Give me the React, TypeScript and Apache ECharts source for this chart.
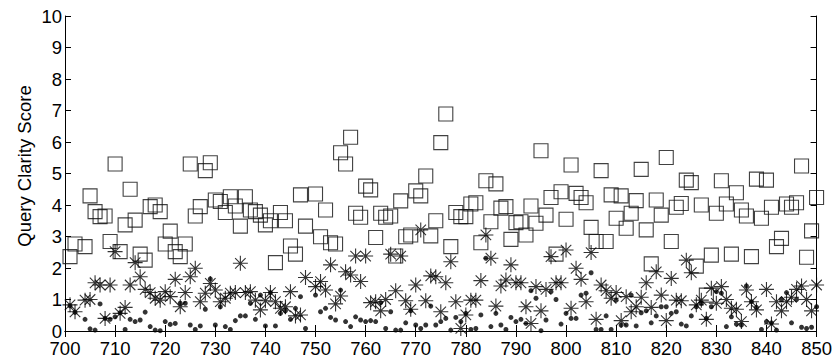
import React, { useEffect, useRef } from "react";
import * as echarts from "echarts";

const xMin = 700;
const xMax = 850;
const yMin = 0;
const yMax = 10;
const yTitle = "Query Clarity Score";

// Square markers [x, score]
const squares: [number, number][] = [
  [701, 2.36], [702, 2.76], [704, 2.68], [705, 4.29], [706, 3.79], [707, 3.63], [708, 3.65], [709, 2.84], [710, 5.3],
  [711, 2.52], [712, 3.37], [713, 4.5], [714, 3.52], [715, 2.44], [716, 2.25], [717, 3.95], [718, 4.0], [719, 3.79],
  [720, 2.76], [721, 3.17], [722, 2.52], [723, 2.36], [724, 2.76], [725, 5.3], [726, 3.65], [727, 3.95], [728, 5.09],
  [729, 5.34], [730, 4.16], [731, 4.11], [732, 3.76], [733, 4.26], [734, 3.97], [735, 3.33], [736, 4.26], [737, 3.84],
  [738, 3.79], [739, 3.68], [740, 3.37], [741, 3.5], [742, 2.17], [743, 3.76], [744, 3.5], [745, 2.7], [746, 2.44],
  [747, 4.32], [748, 3.33], [750, 4.35], [751, 2.99], [752, 3.84], [753, 2.8], [754, 2.76], [755, 5.66], [756, 5.3],
  [757, 6.15], [758, 3.74], [759, 3.61], [760, 4.6], [761, 4.48], [762, 2.97], [763, 3.74], [764, 3.61], [765, 3.65],
  [766, 2.38], [767, 4.13], [768, 2.99], [769, 3.05], [770, 4.45], [771, 4.29], [772, 4.92], [773, 3.02], [774, 3.5],
  [775, 5.98], [776, 6.89], [777, 2.68], [778, 3.76], [779, 3.63], [780, 3.63], [781, 4.03], [782, 4.07], [783, 2.8],
  [784, 4.77], [785, 3.47], [786, 4.67], [787, 3.9], [788, 3.95], [789, 2.91], [790, 3.44], [791, 3.47], [792, 3.05],
  [793, 3.97], [794, 3.42], [795, 5.72], [796, 3.68], [797, 4.24], [798, 2.44], [799, 4.42], [800, 3.55], [801, 5.27],
  [802, 4.37], [803, 4.24], [804, 4.07], [805, 3.29], [806, 2.84], [807, 5.09], [808, 2.84], [809, 4.32], [810, 3.58],
  [811, 4.29], [812, 3.26], [813, 3.74], [814, 4.14], [815, 5.13], [816, 3.21], [817, 2.13], [818, 4.16], [819, 3.68],
  [820, 5.51], [821, 2.84], [822, 3.93], [823, 4.05], [824, 4.79], [825, 4.71], [826, 2.06], [827, 4.0], [828, 1.14],
  [829, 2.41], [830, 3.74], [831, 4.77], [832, 4.03], [833, 2.44], [834, 4.39], [835, 3.84], [836, 3.65], [837, 2.36],
  [838, 4.82], [839, 3.58], [840, 4.79], [841, 3.93], [842, 2.68], [843, 2.94], [844, 4.03], [845, 3.93], [846, 4.07],
  [847, 5.24], [848, 2.34], [849, 3.18], [850, 4.24],
];

// Asterisk markers [x, score]
const stars: [number, number][] = [
  [701, 0.83], [702, 0.61], [704, 0.98], [705, 1.0], [706, 1.53], [707, 1.46], [708, 0.4], [709, 1.46], [710, 2.52],
  [711, 0.56], [712, 0.75], [713, 1.46], [714, 2.17], [715, 1.72], [716, 1.32], [717, 1.22], [718, 1.04], [719, 0.98],
  [720, 1.25], [721, 1.09], [722, 1.64], [723, 0.77], [724, 1.22], [725, 1.72], [726, 1.99], [727, 0.93], [728, 1.2],
  [729, 1.51], [730, 1.3], [731, 0.93], [732, 1.04], [733, 1.2], [734, 1.22], [735, 2.15], [736, 1.22], [737, 1.25],
  [738, 0.98], [739, 0.67], [740, 0.96], [741, 1.22], [742, 0.93], [743, 0.72], [744, 0.77], [745, 1.25], [746, 0.48],
  [747, 0.51], [748, 1.7], [750, 1.41], [751, 1.57], [752, 1.3], [753, 2.1], [754, 0.86], [755, 1.11], [756, 1.88],
  [757, 1.78], [758, 2.38], [759, 1.57], [760, 2.38], [761, 0.9], [762, 0.93], [763, 0.64], [764, 1.0], [765, 2.44],
  [766, 1.28], [767, 2.38], [768, 0.96], [769, 0.69], [770, 1.46], [771, 3.21], [772, 0.96], [773, 1.75], [774, 1.72],
  [775, 0.61], [776, 1.53], [777, 2.2], [778, 0.93], [779, 0.08], [780, 0.51], [781, 0.98], [782, 0.98], [783, 1.6],
  [784, 3.05], [785, 2.31], [786, 0.79], [787, 1.43], [788, 1.62], [789, 2.1], [790, 1.53], [791, 1.53], [792, 0.77],
  [793, 0.24], [794, 1.41], [795, 0.64], [796, 1.32], [797, 2.36], [798, 1.53], [799, 1.53], [800, 2.57], [801, 0.72],
  [802, 1.99], [803, 1.64], [804, 0.93], [805, 2.49], [806, 0.37], [807, 1.46], [808, 1.28], [809, 1.04], [810, 1.22],
  [811, 0.33], [812, 1.09], [813, 0.61], [814, 0.77], [815, 1.07], [816, 1.53], [817, 0.75], [818, 1.88], [819, 1.14],
  [820, 0.33], [821, 1.67], [822, 0.98], [823, 0.96], [824, 2.25], [825, 1.85], [826, 0.83], [827, 0.98], [828, 0.37],
  [829, 1.36], [830, 0.88], [831, 1.41], [832, 1.0], [833, 0.72], [834, 0.69], [835, 0.3], [836, 1.3], [837, 0.93],
  [838, 0.67], [840, 1.32], [841, 0.22], [842, 0.93], [843, 0.64], [844, 0.93], [845, 1.07], [846, 1.32], [847, 1.43],
  [848, 1.0], [849, 0.64], [850, 1.46],
];

// Dot markers [x, score]
const dots: [number, number][] = [
  [701, 0.8], [702, 0.59], [704, 0.37], [705, 0.07], [706, 0.03], [707, 0.86], [708, 0.4], [709, 0.37], [710, 0.45],
  [711, 0.58], [712, 0.05], [713, 0.37], [714, 0.3], [715, 0.35], [716, 0.6], [717, 0.14], [718, 0.03], [719, 0.01],
  [720, 0.3], [721, 0.21], [722, 0.24], [723, 0.88], [724, 0.88], [725, 0.19], [726, 0.05], [727, 0.16], [728, 0.69],
  [729, 1.65], [730, 0.19], [731, 0.77], [732, 0.14], [733, 0.05], [734, 0.33], [735, 0.48], [736, 0.48], [737, 0.88],
  [738, 0.37], [739, 1.14], [740, 0.16], [741, 1.22], [742, 0.16], [743, 0.56], [744, 0.64], [745, 0.37], [746, 0.72],
  [747, 1.09], [748, 0.08], [750, 1.14], [751, 0.61], [752, 0.72], [753, 0.43], [754, 0.35], [755, 1.3], [756, 0.3],
  [757, 0.14], [758, 0.45], [759, 0.35], [760, 0.3], [761, 0.33], [762, 0.3], [763, 0.9], [764, 0.08], [765, 0.61],
  [766, 0.03], [767, 0.03], [768, 0.26], [769, 0.64], [770, 0.19], [771, 0.08], [772, 0.19], [773, 0.79], [774, 0.19],
  [775, 0.3], [776, 0.4], [777, 0.03], [778, 0.43], [779, 0.3], [780, 0.56], [781, 0.05], [782, 0.08], [783, 0.51],
  [784, 2.31], [785, 0.14], [786, 0.56], [787, 0.19], [788, 0.05], [789, 0.43], [790, 0.3], [791, 0.37], [792, 0.24],
  [793, 1.28], [794, 1.04], [795, 0.01], [796, 0.35], [797, 1.25], [798, 1.0], [799, 0.22], [800, 0.56], [801, 0.4],
  [802, 0.4], [803, 1.14], [804, 1.2], [805, 1.85], [806, 0.05], [807, 0.05], [808, 0.48], [809, 0.05], [810, 0.98],
  [811, 0.19], [812, 0.19], [813, 1.14], [814, 0.16], [815, 0.58], [816, 0.64], [817, 0.26], [818, 0.48], [819, 0.77],
  [820, 0.77], [821, 0.56], [822, 0.61], [823, 0.22], [824, 0.16], [825, 0.48], [826, 0.77], [827, 0.88], [828, 0.4],
  [829, 0.77], [830, 1.25], [831, 1.2], [832, 0.14], [833, 0.45], [834, 0.22], [835, 0.19], [836, 1.43], [837, 0.93],
  [838, 0.75], [839, 0.05], [840, 0.3], [841, 0.26], [842, 0.03], [843, 1.0], [844, 1.22], [845, 0.26], [846, 1.0],
  [847, 0.12], [848, 0.08], [849, 0.12], [850, 0.77],
];

const FONT = "'Liberation Sans', Arial, Helvetica, sans-serif";
const STAR = "path://M0 5 L10 5 M5 0 L5 10 M1.5 1.5 L8.5 8.5 M1.5 8.5 L8.5 1.5";

export default function App() {
  const ref = useRef<HTMLDivElement>(null);
  useEffect(() => {
    const chart = echarts.init(ref.current!, null, { renderer: "svg" });
    const line = { show: true, lineStyle: { color: "#000", width: 1 } };
    const tick = { show: true, inside: true, length: 6, lineStyle: { color: "#000", width: 1 } };
    const label = { color: "#000", fontSize: 18.5, fontFamily: FONT };
    chart.setOption({
      animation: false,
      backgroundColor: "#fff",
      grid: { left: 65, right: 18, top: 16, bottom: 28, containLabel: false },
      graphic: [
        {
          type: "text",
          x: 24,
          y: 166,
          rotation: Math.PI / 2,
          style: {
            text: yTitle,
            fill: "#000",
            fontSize: 18.5,
            fontFamily: FONT,
            align: "center",
            verticalAlign: "middle",
          },
        },
      ],
      xAxis: [
        {
          type: "value", min: xMin, max: xMax, interval: 10, position: "bottom",
          axisLine: line, axisTick: tick, splitLine: { show: false },
          axisLabel: { ...label, margin: 10, lineHeight: 14 },
        },
        {
          type: "value", min: xMin, max: xMax, interval: 10, position: "top",
          axisLine: line, axisTick: tick, splitLine: { show: false }, axisLabel: { show: false },
        },
      ],
      yAxis: [
        {
          type: "value", min: yMin, max: yMax, interval: 1, position: "left",
          axisLine: line, axisTick: tick, splitLine: { show: false },
          axisLabel: { ...label, margin: 3, lineHeight: 14 },
        },
        {
          type: "value", min: yMin, max: yMax, interval: 1, position: "right",
          axisLine: line, axisTick: tick, splitLine: { show: false }, axisLabel: { show: false },
        },
      ],
      series: [
        {
          type: "scatter", data: squares, symbol: "rect", symbolSize: 14,
          itemStyle: { color: "rgba(0,0,0,0)", borderColor: "#111", borderWidth: 1.1 },
        },
        {
          type: "scatter", data: stars, symbol: STAR, symbolSize: 15,
          itemStyle: { color: "rgba(0,0,0,0)", borderColor: "#000", borderWidth: 1.1 },
        },
        {
          type: "scatter", data: dots, symbol: "circle", symbolSize: 5,
          itemStyle: { color: "#000" },
        },
      ],
    });
    return () => chart.dispose();
  }, []);
  return <div ref={ref} style={{ position: "fixed", left: 0, top: 0, width: 835, height: 359 }} />;
}
